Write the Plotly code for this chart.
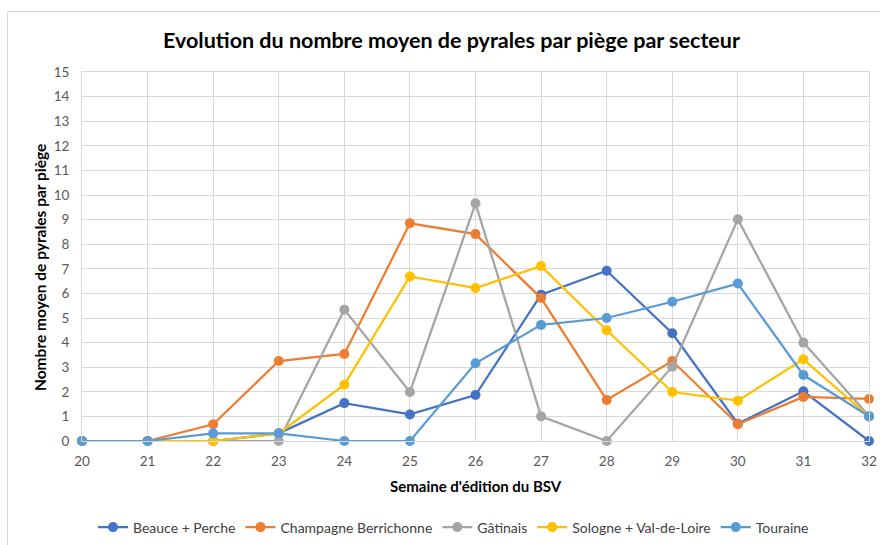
import plotly.graph_objects as go

weeks = [20, 21, 22, 23, 24, 25, 26, 27, 28, 29, 30, 31, 32]
beauce = [0, 0, 0, 0.31, 1.54, 1.08, 1.87, 5.95, 6.92, 4.38, 0.7, 2.02, 0]
champagne = [0, 0, 0.68, 3.25, 3.54, 8.85, 8.41, 5.81, 1.67, 3.25, 0.68, 1.79, 1.71]
gatinais = [0, 0, 0, 0, 5.34, 1.99, 9.66, 1.0, 0, 3.02, 9.01, 4.0, 1.02]
sologne = [0, 0, 0, 0.31, 2.29, 6.69, 6.22, 7.11, 4.5, 1.99, 1.64, 3.32, 1.0]
touraine = [0, 0, 0.31, 0.31, 0, 0, 3.16, 4.72, 5.0, 5.66, 6.4, 2.68, 1.0]

series = [
    ("Beauce + Perche", beauce, "#4472C4"),
    ("Champagne Berrichonne", champagne, "#ED7D31"),
    ("Gâtinais", gatinais, "#A5A5A5"),
    ("Sologne + Val-de-Loire", sologne, "#FFC000"),
    ("Touraine", touraine, "#5B9BD5"),
]

FONT = "Lato"

fig = go.Figure()
for name, vals, col in series:
    fig.add_trace(go.Scatter(
        x=weeks, y=vals, name=name, mode="lines+markers",
        line=dict(color=col, width=2.25),
        marker=dict(color=col, size=10),
        cliponaxis=False,
    ))

W, H = 880, 545
# pixel layout of the plot area
SL, SR, ST, SB = 82, 869, 72, 441
L, T, R, B = SL, ST, W - SR, H - SB
pw = SR - SL
ph = SB - ST


def px_x(p):
    return (p - SL) / pw


def px_y(p):
    return (SB - p) / ph


fig.update_layout(
    width=W, height=H,
    margin=dict(l=L, r=R, t=T, b=B, pad=0, autoexpand=False),
    paper_bgcolor="white", plot_bgcolor="white",
    font=dict(family=FONT, color="#595959", size=13),
    showlegend=True,
    legend=dict(
        orientation="h", x=px_x(453.5), xanchor="center",
        y=px_y(527.5), yanchor="middle",
        font=dict(family=FONT, size=14, color="#404040"),
        itemwidth=30, bgcolor="rgba(0,0,0,0)",
    ),
    xaxis=dict(
        range=[20, 32], dtick=1, tick0=20,
        showgrid=True, gridcolor="#D9D9D9", gridwidth=1,
        showline=True, linecolor="#D9D9D9", linewidth=1, mirror=True,
        zeroline=False, ticks="", ticklen=0, ticklabelstandoff=8,
        ticklabeloverflow="allow",
        tickfont=dict(family=FONT, size=13.5, color="#595959"),
    ),
    yaxis=dict(
        range=[0, 15], dtick=1, tick0=0,
        showgrid=True, gridcolor="#D9D9D9", gridwidth=1,
        showline=True, linecolor="#D9D9D9", linewidth=1, mirror=True,
        zeroline=False, ticks="", ticklen=0, ticklabelstandoff=9,
        tickfont=dict(family=FONT, size=13.5, color="#595959"),
    ),
    annotations=[
        dict(text="<b>Evolution du nombre moyen de pyrales par piège par secteur</b>",
             xref="paper", yref="paper",
             x=px_x(451.5), y=px_y(40), xanchor="center", yanchor="middle",
             showarrow=False, font=dict(family=FONT, size=21.5, color="#000000")),
        dict(text="<b>Semaine d'édition du BSV</b>", xref="paper", yref="paper",
             x=px_x(476), y=px_y(486), xanchor="center", yanchor="middle",
             showarrow=False, font=dict(family=FONT, size=15, color="#000000")),
        dict(text="<b>Nombre moyen de pyrales par piège</b>", xref="paper", yref="paper",
             x=px_x(40), y=px_y(268), xanchor="center", yanchor="middle", textangle=-90,
             showarrow=False, font=dict(family=FONT, size=15.5, color="#000000")),
    ],
    shapes=[
        dict(type="rect", xref="paper", yref="paper",
             x0=px_x(7.5), x1=px_x(900), y0=px_y(560), y1=px_y(11.5),
             line=dict(color="#D9D9D9", width=1), fillcolor="rgba(0,0,0,0)", layer="below"),
    ],
)

fig.write_html(
    "out.html",
    config={"displayModeBar": False},
    post_script="document.body.style.margin='0';document.body.style.overflow='hidden';",
)
